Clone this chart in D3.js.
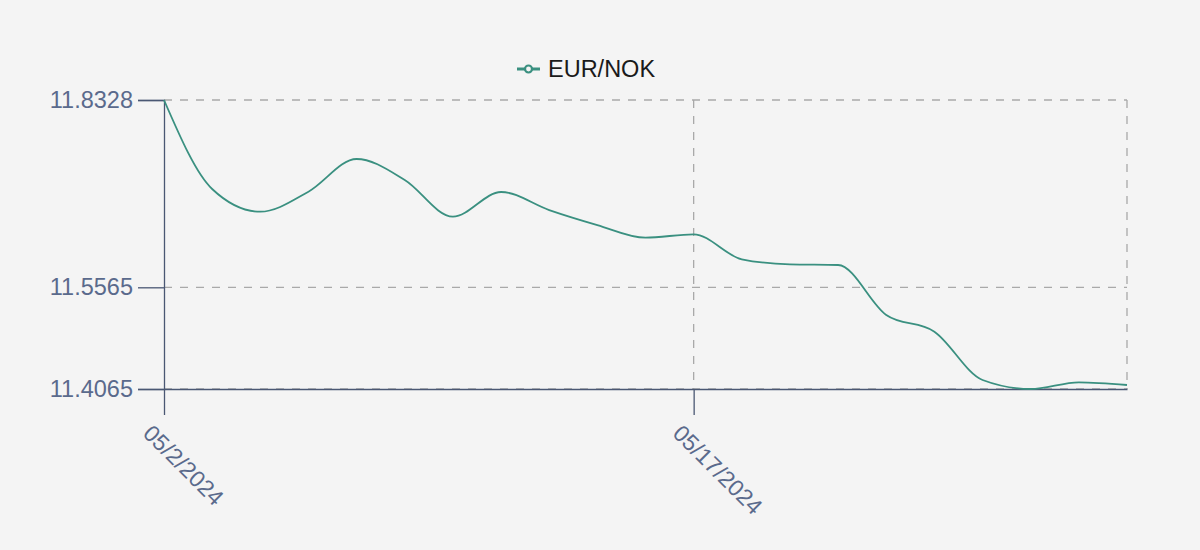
<!DOCTYPE html>
<html>
<head>
<meta charset="utf-8">
<script src="https://cdn.jsdelivr.net/npm/d3@7"></script>
<style>
  html, body { margin: 0; padding: 0; background: #f4f4f4; }
  svg { display: block; font-family: "Liberation Sans", Arial, Helvetica, sans-serif; }
</style>
</head>
<body>
<svg id="chart" width="1200" height="550"></svg>
<script>
const seriesName = "EUR/NOK";
const dates = [
  "05/2/2024","05/3/2024","05/6/2024","05/7/2024","05/8/2024","05/9/2024","05/10/2024",
  "05/13/2024","05/14/2024","05/15/2024","05/16/2024","05/17/2024",
  "05/20/2024","05/21/2024","05/22/2024","05/23/2024","05/24/2024",
  "05/27/2024","05/28/2024","05/29/2024","05/30/2024"
];
const values = [
  11.8328, 11.7015, 11.6680, 11.6975, 11.7458, 11.7148, 11.6607,
  11.6971, 11.6705, 11.6484, 11.6297, 11.6347,
  11.5978, 11.5904, 11.5894, 11.5157, 11.4910,
  11.4198, 11.4065, 11.4164, 11.4124
];
const yTicks = [11.4065, 11.5565, 11.8328];
const xTickLabels = ["05/2/2024", "05/17/2024"];

const W = 1200, H = 550;
const margin = { left: 164, right: 73, top: 100, bottom: 161 };
const svg = d3.select("#chart");

const x = d3.scalePoint().domain(dates).range([margin.left, W - margin.right]);
const y = d3.scaleLinear().domain([d3.min(values), d3.max(values)]).range([H - margin.bottom, margin.top]);

const gridColor = "#a9a9a9";
const axisColor = "#4a5773";
const labelColor = "#5a6a8c";
const lineColor = "#3a9080";

// grid
const grid = svg.append("g");
grid.selectAll("line.h").data(yTicks).join("line")
  .attr("x1", margin.left).attr("x2", W - margin.right)
  .attr("y1", d => y(d)).attr("y2", d => y(d))
  .attr("stroke", gridColor).attr("stroke-width", 1.3).attr("stroke-dasharray", "8,8");
grid.selectAll("line.v").data([xTickLabels[1], dates[dates.length - 1]]).join("line")
  .attr("x1", d => x(d)).attr("x2", d => x(d))
  .attr("y1", margin.top).attr("y2", H - margin.bottom)
  .attr("stroke", gridColor).attr("stroke-width", 1.3).attr("stroke-dasharray", "8,8");

// y axis
const yAxis = d3.axisLeft(y).tickValues(yTicks).tickSize(26).tickPadding(5).tickFormat(d3.format(".4f"));
const gy = svg.append("g").attr("transform", `translate(${margin.left},0)`).call(yAxis);
gy.select(".domain").attr("stroke", axisColor).attr("stroke-width", 1.3);
gy.selectAll(".tick line").attr("stroke", axisColor).attr("stroke-width", 1.3);
gy.selectAll(".tick text").attr("fill", labelColor).attr("font-size", 23.5)
  .attr("font-family", "Liberation Sans, Arial, sans-serif");

// x axis
const xAxis = d3.axisBottom(x).tickValues(xTickLabels).tickSize(26).tickSizeOuter(0);
const gx = svg.append("g").attr("transform", `translate(0,${H - margin.bottom})`).call(xAxis);
gx.select(".domain").attr("stroke", axisColor).attr("stroke-width", 1.3);
gx.selectAll(".tick line").attr("stroke", axisColor).attr("stroke-width", 1.3);
gx.selectAll(".tick text")
  .attr("fill", labelColor).attr("font-size", 23)
  .attr("font-family", "Liberation Sans, Arial, sans-serif")
  .attr("text-anchor", "start")
  .attr("x", 0).attr("y", 0).attr("dy", "0.35em")
  .attr("transform", "translate(-17,40) rotate(45)");

// line
const line = d3.line().x((d, i) => x(dates[i])).y(d => y(d)).curve(d3.curveMonotoneX);
svg.append("path").datum(values)
  .attr("d", line).attr("fill", "none")
  .attr("stroke", lineColor).attr("stroke-width", 1.8);

// legend
const lg = svg.append("g").attr("transform", "translate(517,69)");
lg.append("line").attr("x1", 0).attr("x2", 23).attr("y1", 0).attr("y2", 0)
  .attr("stroke", lineColor).attr("stroke-width", 3);
lg.append("circle").attr("cx", 11.5).attr("cy", 0).attr("r", 3.5)
  .attr("fill", "#f4f4f4").attr("stroke", lineColor).attr("stroke-width", 2.2);
lg.append("text").attr("x", 31).attr("y", 0).attr("dy", "0.35em")
  .attr("font-size", 23.5).attr("fill", "#1a1a1a").text(seriesName);
</script>
</body>
</html>
